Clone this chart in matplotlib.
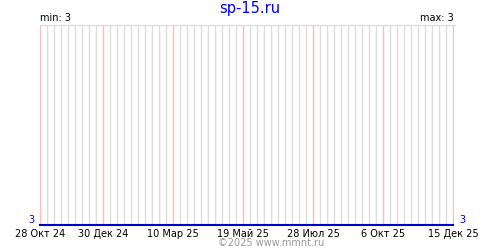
import matplotlib
matplotlib.use("Agg")
import matplotlib.pyplot as plt
import matplotlib.dates as mdates
import matplotlib.transforms as mtransforms
import datetime as dt

# Data
dates = [dt.date(2024, 10, 28), dt.date(2025, 12, 15)]
values = [3, 3]
tick_dates = [dt.date(2024, 10, 28), dt.date(2024, 12, 30), dt.date(2025, 3, 10),
              dt.date(2025, 5, 19), dt.date(2025, 7, 28), dt.date(2025, 10, 6),
              dt.date(2025, 12, 15)]
tick_labels = ["28 Окт 24", "30 Дек 24", "10 Мар 25", "19 Май 25", "28 Июл 25",
               "6 Окт 25", "15 Дек 25"]
y_label_value = "3"
title = "sp-15.ru"
min_label = "min: 3"
max_label = "max: 3"
credit = "©2025 www.mmnt.ru"

plt.rcParams['font.family'] = ['DejaVu Sans']
fig = plt.figure(figsize=(5, 2.5), dpi=100)
ax = fig.add_axes([39.5/500, 25/250, 415/500, 200/250])

x0 = mdates.date2num(dates[0])
x1 = mdates.date2num(dates[-1])
ax.set_xlim(x0 - 0.5, x1 + 1.5)
ax.set_ylim(3, 4)

# weekly minor gridlines, pink major gridlines at labelled dates
ax.xaxis.set_minor_locator(mdates.WeekdayLocator(byweekday=mdates.MO, interval=1))
ax.set_xticks([mdates.date2num(d) for d in tick_dates])
ax.set_xticklabels(tick_labels)
ax.grid(which='minor', axis='x', color='#dddddd', lw=1)
ax.grid(which='major', axis='x', color='#ffbbbb', lw=1, zorder=2)
ax.set_axisbelow(True)
ax.tick_params(axis='x', which='both', length=0, labelsize=7, pad=3)

ax.plot([x0, x1], values, color='#0000cc', lw=1.5, zorder=5, clip_on=False)

ax.set_yticks([])
trans_l = mtransforms.blended_transform_factory(ax.transAxes, ax.transData)
ax.text(-0.012, values[0], y_label_value, transform=trans_l, ha='right', va='bottom',
        color='#0000cc', fontsize=7)
ax.text(1.012, values[-1], y_label_value, transform=trans_l, ha='left', va='bottom',
        color='#0000cc', fontsize=7)

for s in ['left', 'right', 'bottom']:
    ax.spines[s].set_visible(False)
ax.spines['top'].set_color('#dddddd')
ax.spines['top'].set_linewidth(1)

fig.text(0.5, 1 - 9/250, title, ha='center', va='center', color='#0000ff', fontsize=10.5)
fig.text(40/500, 1 - 18/250, min_label, ha='left', va='center', color='black', fontsize=7)
fig.text(454/500, 1 - 18/250, max_label, ha='right', va='center', color='black', fontsize=7)
fig.text(271/500, 1 - 243/250, credit, ha='center', va='center', color='#999999', fontsize=7)

fig.savefig("out.png", dpi=100)
